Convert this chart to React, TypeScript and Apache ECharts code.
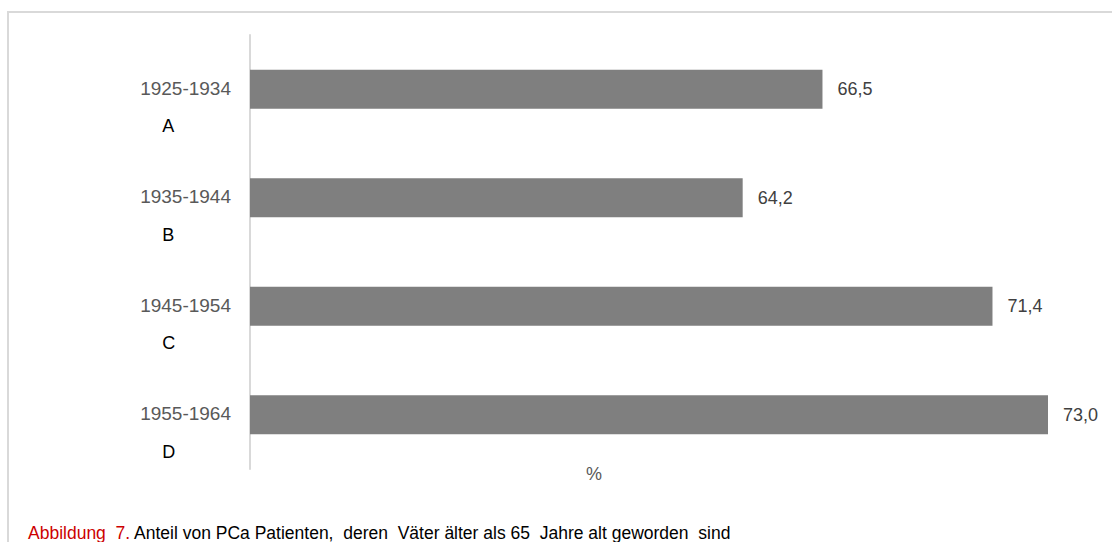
import React, { useEffect, useRef } from "react";
import * as echarts from "echarts";

const years = ["1925-1934", "1935-1944", "1945-1954", "1955-1964"];
const letters = ["A", "B", "C", "D"];
const values = [66.5, 64.2, 71.4, 73.0];
const axisName = "%";
const captionLabel = "Abbildung  7.";
const captionText = " Anteil von PCa Patienten,  deren  Väter älter als 65  Jahre alt geworden  sind";

const FONT = "'Liberation Sans', Arial, sans-serif";

export default function App() {
  const ref = useRef<HTMLDivElement>(null);
  useEffect(() => {
    if (!ref.current) return;
    const chart = echarts.init(ref.current, null, { renderer: "svg" });
    const categories = years.map((y, i) => `${y}|${letters[i]}`);
    chart.setOption({
      animation: false,
      backgroundColor: "#ffffff",
      textStyle: { fontFamily: FONT },
      grid: { left: 250, right: 64, top: 35, bottom: 73, containLabel: false },
      xAxis: {
        type: "value",
        min: 50,
        max: 73,
        startValue: 50,
        axisLine: { show: false },
        axisTick: { show: false },
        axisLabel: { show: false },
        splitLine: { show: false },
      },
      yAxis: {
        type: "category",
        inverse: true,
        data: categories,
        axisLine: { show: true, lineStyle: { color: "#d9d9d9", width: 2 } },
        axisTick: { show: false },
        axisLabel: {
          interval: 0,
          margin: 19,
          formatter: (v: string) => {
            const [y, l] = v.split("|");
            return `{y|${y}}\n{l|${l}}`;
          },
          rich: {
            y: { fontSize: 19, color: "#595959", lineHeight: 74, fontFamily: FONT },
            l: { fontSize: 18, color: "#000000", lineHeight: 2, align: "left", padding: [0, 0, 0, 22], fontFamily: FONT },
          },
        },
      },
      series: [
        {
          type: "bar",
          data: values,
          barWidth: 39,
          clip: true,
          itemStyle: { color: "#7f7f7f" },
          label: {
            show: true,
            position: "right",
            distance: 15,
            color: "#404040",
            fontSize: 18,
            fontFamily: FONT,
            formatter: (p: any) => Number(p.value).toFixed(1).replace(".", ","),
          },
        },
      ],
      graphic: [
        {
          type: "rect",
          shape: { x: 8, y: 12, width: 1140, height: 640 },
          style: { fill: "none", stroke: "#d9d9d9", lineWidth: 2 },
          silent: true,
        },
        {
          type: "text",
          x: 594,
          y: 474,
          style: {
            text: axisName,
            fontSize: 18,
            fill: "#595959",
            align: "center",
            verticalAlign: "middle",
            fontFamily: FONT,
          },
        },
        {
          type: "text",
          x: 28,
          y: 533,
          style: {
            text: `{a|${captionLabel}}{b|${captionText}}`,
            verticalAlign: "middle",
            align: "left",
            rich: {
              a: { fontSize: 17.5, fill: "#cc0000", fontFamily: FONT },
              b: { fontSize: 17.5, fill: "#000000", fontFamily: FONT },
            },
          },
        },
      ],
    });
    return () => chart.dispose();
  }, []);
  return (
    <div
      ref={ref}
      style={{ position: "absolute", left: 0, top: 0, width: 1112, height: 542 }}
    />
  );
}
